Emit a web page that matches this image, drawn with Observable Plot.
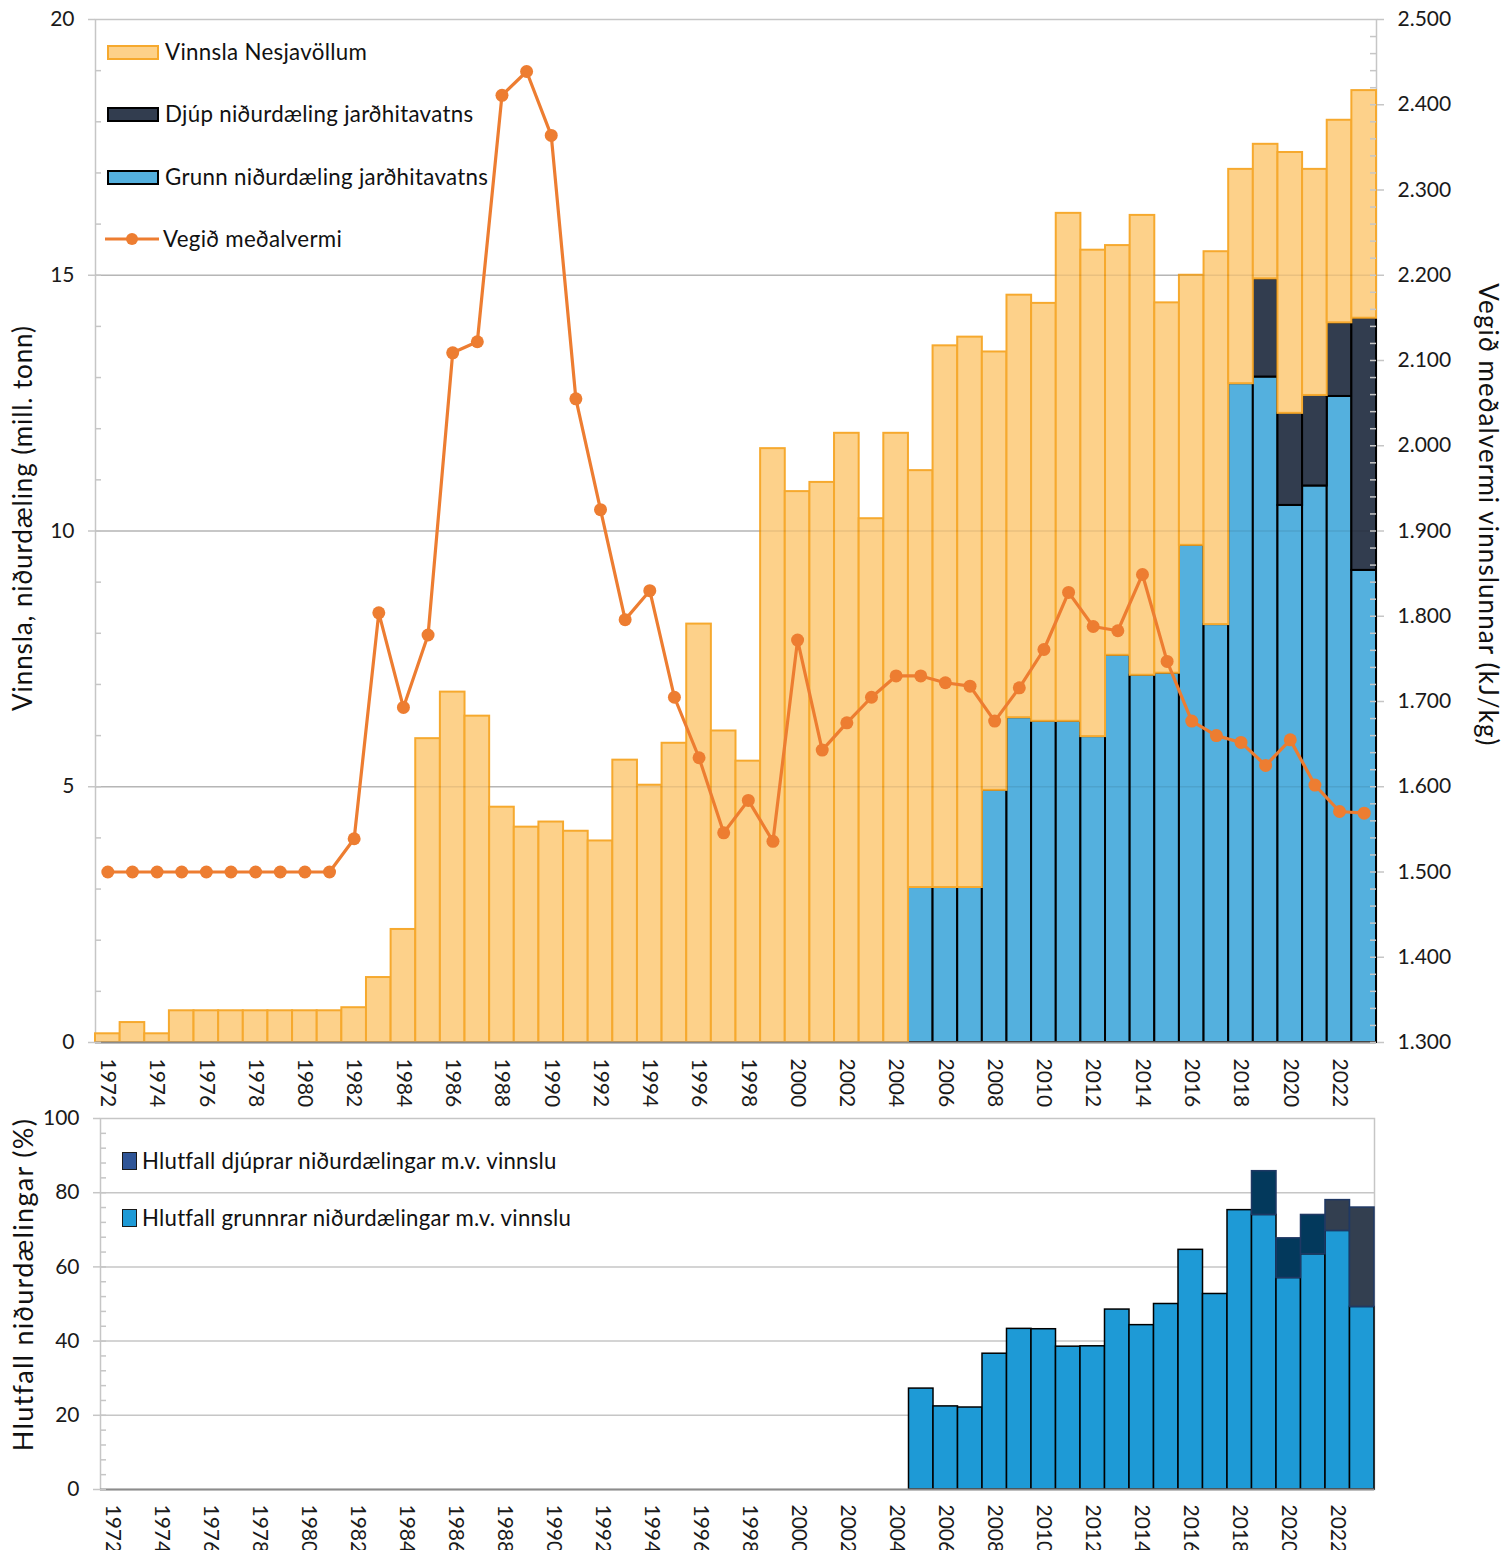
<!DOCTYPE html>
<html>
<head>
<meta charset="utf-8">
<script src="https://cdn.jsdelivr.net/npm/d3@7"></script>
<script src="https://cdn.jsdelivr.net/npm/@observablehq/plot@0.6"></script>
<style>
  body { margin: 0; background: #fff; font-family: Lato, "Open Sans", sans-serif; color: #111; }
  #wrap { position: relative; width: 1507px; height: 1550px; overflow: hidden; background: #fff; }
  .layer { position: absolute; left: 0; }
  .leg { position: absolute; display: flex; align-items: center; white-space: nowrap; line-height: 1; }
  .sw { display: inline-block; box-sizing: border-box; }
  .title { position: absolute; white-space: nowrap; line-height: 1; transform-origin: center center; }
</style>
</head>
<body>
<div id="wrap"></div>
<script>
// ---------- data ----------
const years = [1972,1973,1974,1975,1976,1977,1978,1979,1980,1981,
  1982,1983,1984,1985,1986,1987,1988,1989,1990,1991,
  1992,1993,1994,1995,1996,1997,1998,1999,2000,2001,
  2002,2003,2004,2005,2006,2007,2008,2009,2010,2011,
  2012,2013,2014,2015,2016,2017,2018,2019,2020,2021,
  2022,2023];

// Vinnsla Nesjavöllum (mill. tonn) – total production
const vinnsla = [0.17,0.39,0.17,0.62,0.62,0.62,0.62,0.62,0.62,0.62,
  0.68,1.27,2.21,5.94,6.85,6.38,4.60,4.21,4.31,4.13,
  3.94,5.52,5.03,5.85,8.18,6.09,5.50,11.61,10.77,10.95,
  11.91,10.24,11.91,11.18,13.62,13.79,13.50,14.61,14.45,16.21,
  15.49,15.58,16.17,14.46,15.00,15.46,17.07,17.56,17.40,17.07,
  18.03,18.61];

// Grunn niðurdæling jarðhitavatns (mill. tonn)
const grunn = [null,null,null,null,null,null,null,null,null,null,
  null,null,null,null,null,null,null,null,null,null,
  null,null,null,null,null,null,null,null,null,null,
  null,null,null,3.03,3.03,3.03,4.93,6.35,6.28,6.28,
  5.98,7.57,7.18,7.22,9.72,8.17,12.88,13.01,10.50,10.88,
  12.63,9.23];

// Djúp niðurdæling jarðhitavatns (mill. tonn)
const djup = [null,null,null,null,null,null,null,null,null,null,
  null,null,null,null,null,null,null,null,null,null,
  null,null,null,null,null,null,null,null,null,null,
  null,null,null,null,null,null,null,null,null,null,
  null,null,null,null,null,null,null,1.92,1.80,1.77,
  1.44,4.93];

// Vegið meðalvermi (kJ/kg)
const vermi = [1500,1500,1500,1500,1500,1500,1500,1500,1500,1500,
  1539,1804,1693,1778,2109,2122,2411,2439,2364,2055,
  1925,1796,1830,1705,1634,1546,1584,1536,1772,1643,
  1675,1705,1730,1730,1722,1718,1677,1716,1761,1828,
  1788,1783,1849,1747,1677,1660,1652,1625,1655,1602,
  1571,1569];

// Hlutfall grunnrar / djúprar niðurdælingar m.v. vinnslu (%)
const hlutfallGrunn = [null,null,null,null,null,null,null,null,null,null,
  null,null,null,null,null,null,null,null,null,null,
  null,null,null,null,null,null,null,null,null,null,
  null,null,null,27.2,22.4,22.1,36.6,43.3,43.2,38.5,
  38.6,48.5,44.3,50.0,64.6,52.7,75.3,74.0,57.0,63.4,
  69.7,49.2];
const hlutfallDjup = [null,null,null,null,null,null,null,null,null,null,
  null,null,null,null,null,null,null,null,null,null,
  null,null,null,null,null,null,null,null,null,null,
  null,null,null,null,null,null,null,null,null,null,
  null,null,null,null,null,null,null,11.8,10.7,10.6,
  8.3,26.8];

const yearTicks = [1972,1974,1976,1978,1980,1982,1984,1986,1988,1990,1992,1994,1996,1998,
  2000,2002,2004,2006,2008,2010,2012,2014,2016,2018,2020,2022];
const leftTicks = [0,5,10,15,20];
const rightTicks = [1300,1400,1500,1600,1700,1800,1900,2000,2100,2200,2300,2400,2500];
const pctTicks = [0,20,40,60,80,100];

// ---------- table ----------
const rows = years.map((year, i) => ({
  year,
  total: vinnsla[i],
  grunn: grunn[i] ?? 0,
  djup: djup[i] ?? 0,
  vermi: vermi[i],
  pg: hlutfallGrunn[i] ?? 0,
  pd: hlutfallDjup[i] ?? 0
}));

const FONT = "Lato, 'Open Sans', sans-serif";
const GRID = "#c6c6c6";
const fmtIS = d3.formatLocale({decimal: ",", thousands: ".", grouping: [3], currency: ["", ""]}).format(",");
const fmtYear = d => String(d);
const fmtInt = d => String(d);

const wrap = document.getElementById("wrap");

// ---------- top chart: bars ----------
const W = 1507, HT = 1110;
const mL = 95, mR = 131, mT = 19, mB = 68;
const innerW = W - mL - mR;
const baseStyle = {fontFamily: FONT, fontSize: "20px", color: "#1a1a1a", background: "transparent", overflow: "visible", maxWidth: "none"};

const topBars = Plot.plot({
  width: W, height: HT, marginLeft: mL, marginRight: mR, marginTop: mT, marginBottom: mB,
  style: baseStyle,
  x: {type: "band", domain: years, padding: 0, round: false, axis: null},
  y: {domain: [0, 20], axis: null},
  marks: [
    Plot.gridY([5, 10, 15], {stroke: GRID, strokeOpacity: 1, strokeWidth: 1.5}),
    Plot.frame({stroke: GRID, strokeWidth: 1.5}),
    Plot.barY(rows.filter(d => d.grunn > 0), {x: "year", y1: 0, y2: "grunn", fill: "#54b0de", stroke: "#000", strokeWidth: 2}),
    Plot.barY(rows.filter(d => d.djup > 0), {x: "year", y1: "grunn", y2: d => d.grunn + d.djup, fill: "#323d4f", stroke: "#000", strokeWidth: 2}),
    Plot.barY(rows, {x: "year", y1: d => d.grunn + d.djup, y2: "total", fill: "#fdd18a", stroke: "#f6a92e", strokeWidth: 2}),
    Plot.gridY([5, 10, 15], {stroke: "#000", strokeOpacity: 0.08, strokeWidth: 1.5}),
    Plot.ruleY([0], {stroke: "#8c8c8c", strokeWidth: 2}),
    Plot.axisY(leftTicks, {tickSize: 7, tickPadding: 14, tickFormat: fmtInt, label: null, stroke: GRID, strokeWidth: 1.5, fontSize: 21}),
    Plot.tickY(d3.range(0, 20, 1), {y: d => d, insetRight: innerW - 6, stroke: GRID, strokeWidth: 1.5}),
    Plot.axisX(yearTicks, {tickSize: 0, tickPadding: 16, tickRotate: 90, tickFormat: fmtYear, label: null, fontSize: 21})
  ]
});
topBars.classList.add("layer");
topBars.style.top = "0px";
wrap.appendChild(topBars);

// ---------- top chart: line on right axis ----------
const topLine = Plot.plot({
  width: W, height: HT, marginLeft: mL, marginRight: mR, marginTop: mT, marginBottom: mB,
  style: baseStyle,
  x: {type: "point", domain: years, padding: 0.5, round: false, axis: null},
  y: {domain: [1300, 2500], axis: null},
  marks: [
    Plot.axisY(rightTicks, {anchor: "right", tickSize: 7, tickPadding: 14, tickFormat: fmtIS, label: null, stroke: GRID, strokeWidth: 1.5, fontSize: 21}),
    Plot.tickY(d3.range(1300, 2500, 20), {y: d => d, insetLeft: innerW - 6, stroke: GRID, strokeWidth: 1.5}),
    Plot.line(rows, {x: "year", y: "vermi", stroke: "#ed7d31", strokeWidth: 3.2}),
    Plot.dot(rows, {x: "year", y: "vermi", r: 6.5, fill: "#ed7d31", stroke: "none"})
  ]
});
topLine.classList.add("layer");
topLine.style.top = "0px";
wrap.appendChild(topLine);

// ---------- bottom chart ----------
const HB = 440, bTop = 1110;
const bL = 100, bR = 133, bT = 8, bB = 61;
const innerWB = W - bL - bR;
const bottom = Plot.plot({
  width: W, height: HB, marginLeft: bL, marginRight: bR, marginTop: bT, marginBottom: bB,
  style: baseStyle,
  x: {type: "band", domain: years, padding: 0, round: false, axis: null},
  y: {domain: [0, 100], axis: null},
  marks: [
    Plot.gridY([20, 40, 60, 80], {stroke: GRID, strokeOpacity: 1, strokeWidth: 1.5}),
    Plot.frame({stroke: GRID, strokeWidth: 1.5}),
    Plot.barY(rows.filter(d => d.pg > 0), {x: "year", y1: 0, y2: "pg", fill: "#1e9ad6", stroke: "#000", strokeWidth: 1.5}),
    Plot.barY(rows.filter(d => d.pd > 0 && d.year < 2022), {x: "year", y1: "pg", y2: d => d.pg + d.pd, fill: "#03395c", stroke: "#1f3864", strokeWidth: 1.5}),
    Plot.barY(rows.filter(d => d.pd > 0 && d.year >= 2022), {x: "year", y1: "pg", y2: d => d.pg + d.pd, fill: "#333f50", stroke: "#1f3864", strokeWidth: 1.5}),
    Plot.ruleY([0], {stroke: "#8c8c8c", strokeWidth: 2}),
    Plot.axisY(pctTicks, {tickSize: 7, tickPadding: 14, tickFormat: fmtInt, label: null, stroke: GRID, strokeWidth: 1.5, fontSize: 21}),
    Plot.tickY(d3.range(0, 100, 4), {y: d => d, insetRight: innerWB - 6, stroke: GRID, strokeWidth: 1.5}),
    Plot.axisX(yearTicks, {tickSize: 0, tickPadding: 15, tickRotate: 90, tickFormat: fmtYear, label: null, fontSize: 21})
  ]
});
bottom.classList.add("layer");
bottom.style.top = bTop + "px";
wrap.appendChild(bottom);

// ---------- legends ----------
function legendItem(x, cy, swatchHTML, text, fontSize, spacing) {
  const el = document.createElement("div");
  el.className = "leg";
  el.style.left = x + "px";
  el.style.top = (cy - 14) + "px";
  el.style.height = "28px";
  el.style.fontSize = fontSize + "px";
  el.style.letterSpacing = (spacing || 0) + "px";
  el.innerHTML = swatchHTML + `<span>${text}</span>`;
  wrap.appendChild(el);
}
const rect = (w, h, fill, stroke, sw, gap) =>
  `<span class="sw" style="width:${w}px;height:${h}px;background:${fill};border:${sw}px solid ${stroke};margin-right:${gap}px"></span>`;
const lineSw = `<svg width="56" height="20" style="margin-right:3px"><line x1="1" y1="10" x2="55" y2="10" stroke="#ed7d31" stroke-width="3.2"/><circle cx="28" cy="10" r="6" fill="#ed7d31"/></svg>`;

legendItem(107, 52, rect(52, 15, "#fdd18a", "#f6a92e", 2, 6), "Vinnsla Nesjavöllum", 22.3, 0.3);
legendItem(107, 114, rect(52, 15, "#323d4f", "#000", 2, 6), "Djúp niðurdæling jarðhitavatns", 22.3, 0.3);
legendItem(107, 177, rect(52, 15, "#54b0de", "#000", 2, 6), "Grunn niðurdæling jarðhitavatns", 22.3, 0.3);
legendItem(104, 239, lineSw, "Vegið meðalvermi", 22.3, 0.3);

legendItem(122, 1161, rect(15, 18, "#2f5597", "#1a1a1a", 1.5, 5), "Hlutfall djúprar niðurdælingar m.v. vinnslu", 22.2, 0.25);
legendItem(122, 1218, rect(15, 18, "#1e9ad6", "#1a1a1a", 1.5, 5), "Hlutfall grunnrar niðurdælingar m.v. vinnslu", 22.2, 0.25);

// ---------- axis titles ----------
function title(text, cx, cy, rot, size, spacing) {
  const el = document.createElement("div");
  el.className = "title";
  el.textContent = text;
  el.style.fontSize = size + "px";
  el.style.letterSpacing = spacing + "px";
  wrap.appendChild(el);
  const w = el.offsetWidth, h = el.offsetHeight;
  el.style.left = (cx - w / 2) + "px";
  el.style.top = (cy - h / 2) + "px";
  el.style.transform = `rotate(${rot}deg)`;
}
title("Vinnsla, niðurdæling (mill. tonn)", 22, 518, -90, 26, 0.9);
title("Vegið meðalvermi vinnslunnar (kJ/kg)", 1488, 515, 90, 26, 1.1);
title("Hlutfall niðurdælingar (%)", 22, 1284, -90, 27, 1.3);
</script>
</body>
</html>
